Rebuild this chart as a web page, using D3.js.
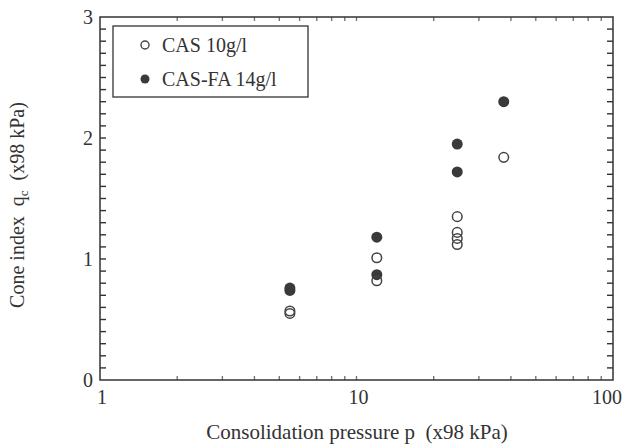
<!DOCTYPE html>
<html>
<head>
<meta charset="utf-8">
<script src="https://cdn.jsdelivr.net/npm/d3@7"></script>
<style>
  body { margin: 0; background: #fff; }
  text { font-family: "Liberation Serif", "DejaVu Serif", serif; fill: #333; white-space: pre; }
</style>
</head>
<body>
<script>
// values
const casP = [5.5, 5.5, 12, 12, 24.7, 24.7, 24.7, 24.7, 37.5];
const casQ = [0.55, 0.57, 1.01, 0.82, 1.35, 1.22, 1.17, 1.12, 1.84];
const faP = [5.5, 5.5, 12, 12, 24.7, 24.7, 37.5];
const faQ = [0.74, 0.76, 1.18, 0.87, 1.95, 1.72, 2.30];
const xTicks = [1, 10, 100];
const yTicks = [0, 1, 2, 3];

const width = 623, height = 445;
const margin = { top: 17, right: 10, bottom: 65, left: 100 };

const x = d3.scaleLog([1, 100], [margin.left, width - margin.right]);
const y = d3.scaleLinear([0, 3], [height - margin.bottom, margin.top]);

const svg = d3.select("body").append("svg")
  .attr("width", width)
  .attr("height", height);

const ink = "#333";

// minor ticks: every 0.1 on y, log minors on x
const yMinor = d3.range(1, 30).map(i => i / 10);
const xMinor = d3.range(2, 100).filter(v => v < 10 || v % 10 === 0);

// y ticks, left and right, pointing inward
svg.append("g").selectAll("rect").data(yMinor).enter().append("rect")
  .attr("x", x(1)).attr("y", d => y(d) - 0.7)
  .attr("width", 6).attr("height", 1.4)
  .attr("fill", ink);
svg.append("g").selectAll("rect").data(yMinor).enter().append("rect")
  .attr("x", x(100) - 6).attr("y", d => y(d) - 0.7)
  .attr("width", 6).attr("height", 1.4)
  .attr("fill", ink);

// x ticks, bottom and top, fainter
svg.append("g").selectAll("rect").data(xMinor).enter().append("rect")
  .attr("x", d => x(d) - 0.7).attr("y", y(0) - 4)
  .attr("width", 1.4).attr("height", 4)
  .attr("fill", "#777");
svg.append("g").selectAll("rect").data(xMinor).enter().append("rect")
  .attr("x", d => x(d) - 0.7).attr("y", y(3))
  .attr("width", 1.4).attr("height", 4)
  .attr("fill", "#777");

// frame
svg.append("rect")
  .attr("x", x(1)).attr("y", y(3))
  .attr("width", x(100) - x(1)).attr("height", y(0) - y(3))
  .attr("fill", "none").attr("stroke", ink).attr("stroke-width", 1.5);

// tick labels
svg.selectAll(".xl").data(xTicks).enter().append("text")
  .attr("x", d => x(d)).attr("y", y(0) + 24)
  .attr("text-anchor", (d, i) => i === xTicks.length - 1 ? "end" : "middle")
  .attr("dx", (d, i) => i === xTicks.length - 1 ? 9 : 2)
  .attr("font-size", 20)
  .text(d => d);

svg.selectAll(".yl").data(yTicks).enter().append("text")
  .attr("x", x(1) - 12).attr("y", d => y(d) + 7)
  .attr("text-anchor", "middle")
  .attr("font-size", 20)
  .text(d => d);

// axis titles
svg.append("text")
  .attr("x", 357).attr("y", 439)
  .attr("text-anchor", "middle")
  .attr("font-size", 21)
  .text("Consolidation pressure p  (x98 kPa)");

const yt = svg.append("text")
  .attr("transform", "translate(24,205) rotate(-90)")
  .attr("text-anchor", "middle")
  .attr("font-size", 20);
yt.append("tspan").text("Cone index  q");
yt.append("tspan").attr("font-size", 13).attr("dy", 4).text("c");
yt.append("tspan").attr("dy", -4).text("  (x98 kPa)");

// points
const cas = casP.map((p, i) => ({ p: p, q: casQ[i] }));
const fa = faP.map((p, i) => ({ p: p, q: faQ[i] }));

svg.append("g").selectAll("circle").data(fa).enter().append("circle")
  .attr("cx", d => x(d.p)).attr("cy", d => y(d.q))
  .attr("r", 5.5)
  .attr("fill", "#3a3a3a");

svg.append("g").selectAll("circle").data(cas).enter().append("circle")
  .attr("cx", d => x(d.p)).attr("cy", d => y(d.q))
  .attr("r", 4.8)
  .attr("fill", "none")
  .attr("stroke", "#444")
  .attr("stroke-width", 1.5);

// legend
const lg = svg.append("g").attr("transform", "translate(113,26)");
lg.append("rect")
  .attr("width", 195).attr("height", 71)
  .attr("fill", "#fff").attr("stroke", ink).attr("stroke-width", 1.3);
lg.append("circle").attr("cx", 32).attr("cy", 19).attr("r", 4)
  .attr("fill", "none").attr("stroke", "#444").attr("stroke-width", 1.4);
lg.append("text").attr("x", 49).attr("y", 26).attr("font-size", 20).text("CAS 10g/l");
lg.append("circle").attr("cx", 32).attr("cy", 53).attr("r", 4.5).attr("fill", "#3a3a3a");
lg.append("text").attr("x", 49).attr("y", 60).attr("font-size", 20).text("CAS-FA 14g/l");
</script>
</body>
</html>
